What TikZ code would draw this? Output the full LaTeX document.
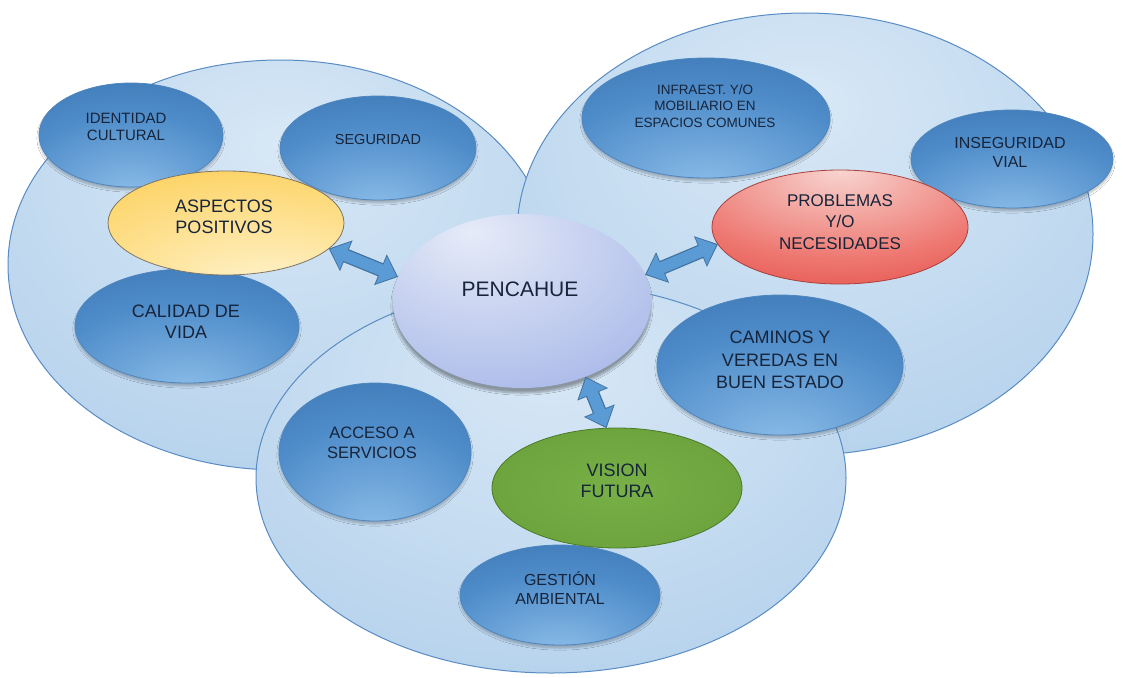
\documentclass[tikz,border=0pt]{standalone}
\usepackage{fontspec}
\setmainfont{Liberation Sans}
\usetikzlibrary{shapes.geometric,arrows.meta,shadows.blur}
\definecolor{bigin}{HTML}{D8E8F6}
\definecolor{bigmid}{HTML}{BCD6EE}
\definecolor{bigout}{HTML}{99C0E4}
\definecolor{bigedge}{HTML}{5A8CC4}
\definecolor{dkin}{HTML}{8DBEE9}
\definecolor{dkmid}{HTML}{4F8DCA}
\definecolor{dkout}{HTML}{2A64A0}
\definecolor{dkedge}{HTML}{4F86BF}
\definecolor{yin}{HTML}{FFF5D3}
\definecolor{ymid}{HTML}{FDD875}
\definecolor{yout}{HTML}{F9B713}
\definecolor{yedge}{HTML}{7E7564}
\definecolor{rin}{HTML}{F8D4D0}
\definecolor{rmid}{HTML}{EE7A73}
\definecolor{rout}{HTML}{DC2B25}
\definecolor{redge}{HTML}{A8403C}
\definecolor{gin}{HTML}{78B047}
\definecolor{gout}{HTML}{629835}
\definecolor{gedge}{HTML}{4A7A28}
\definecolor{pin}{HTML}{E6EBF8}
\definecolor{pmid}{HTML}{B3C1EB}
\definecolor{pout}{HTML}{7089D6}
\definecolor{arrfill}{HTML}{5B9BD5}
\definecolor{arredge}{HTML}{41719C}
\definecolor{txt}{HTML}{17243A}
\pgfdeclareradialshading{bigshade}{\pgfpoint{0bp}{15bp}}{color(0bp)=(bigin); color(30bp)=(bigmid); color(65bp)=(bigout); color(90bp)=(bigout)}
\pgfdeclareradialshading{darkshade}{\pgfpoint{0bp}{-30bp}}{color(0bp)=(dkin); color(30bp)=(dkmid); color(66bp)=(dkout); color(95bp)=(dkout)}
\pgfdeclareradialshading{yelshade}{\pgfpoint{10bp}{-35bp}}{color(0bp)=(yin); color(40bp)=(ymid); color(78bp)=(yout); color(100bp)=(yout)}
\pgfdeclareradialshading{redshade}{\pgfpoint{0bp}{25bp}}{color(0bp)=(rin); color(30bp)=(rmid); color(62bp)=(rout); color(95bp)=(rout)}
\pgfdeclareradialshading{grnshade}{\pgfpoint{0bp}{0bp}}{color(0bp)=(gin); color(50bp)=(gout); color(75bp)=(gout)}
\pgfdeclareradialshading{penshade}{\pgfpoint{-10bp}{20bp}}{color(0bp)=(pin); color(35bp)=(pmid); color(72bp)=(pout); color(95bp)=(pout)}
\tikzset{
  blob/.style={ellipse, inner sep=0pt, outer sep=0pt},
  bigc/.style={blob, draw=bigedge, line width=1pt, shading=bigshade},
  smallc/.style={blob, draw=dkedge, line width=0.8pt, shading=darkshade,
    blur shadow={shadow xshift=0pt, shadow yshift=-3pt, shadow opacity=25, shadow blur steps=6}},
  yelc/.style={blob, draw=yedge, line width=0.8pt, shading=yelshade},
  redc/.style={blob, draw=redge, line width=0.8pt, shading=redshade},
  grnc/.style={blob, draw=gedge, line width=0.8pt, shading=grnshade},
  penc/.style={blob, shading=penshade,
    blur shadow={shadow xshift=0pt, shadow yshift=-5pt, shadow opacity=35, shadow blur steps=8}},
  lbl/.style={align=center, text=txt, inner sep=0pt},
  arrout/.style={draw=arredge, line width=14pt,
    {Triangle[width=32pt,length=19pt]}-{Triangle[width=32pt,length=19pt]}},
  arrin/.style={draw=arrfill, line width=11.5pt, shorten <=1.6pt, shorten >=1.6pt,
    {Triangle[width=28.5pt,length=16.5pt]}-{Triangle[width=28.5pt,length=16.5pt]}},
}
\begin{document}
\begin{tikzpicture}[x=1pt,y=-1pt]
\fill[white] (0,0) rectangle (1123,677);
\useasboundingbox (0,0) rectangle (1123,677);
% big circles
\node[bigc, minimum width=544pt, minimum height=410pt] (L) at (280,265) {};
\node[bigc, minimum width=576pt, minimum height=442pt] (R) at (805,234) {};
\node[bigc, minimum width=590pt, minimum height=390pt] (B) at (551,478) {};
% small ellipses
\node[smallc, minimum width=184pt, minimum height=104pt] (ident) at (131,135) {};
\node[smallc, minimum width=196pt, minimum height=104pt] (segur) at (378,148) {};
\node[smallc, minimum width=224pt, minimum height=114pt] (cal) at (187,326) {};
\node[yelc, minimum width=236pt, minimum height=104pt] (asp) at (226,223) {};
\node[smallc, minimum width=248pt, minimum height=120pt] (infra) at (706,118) {};
\node[smallc, minimum width=202pt, minimum height=98pt] (inseg) at (1012,159) {};
\node[redc, minimum width=256pt, minimum height=114pt] (prob) at (840,227) {};
\node[smallc, minimum width=246pt, minimum height=140pt] (cam) at (780,365) {};
\node[smallc, minimum width=192pt, minimum height=138pt] (acc) at (375,452) {};
\node[smallc, minimum width=200pt, minimum height=100pt] (ges) at (560,595) {};
\node[grnc, minimum width=250pt, minimum height=120pt] (vis) at (617,488) {};
\node[penc, minimum width=258pt, minimum height=174pt] (pen) at (522,301) {};
% arrows
\draw[arrout] (asp.-14) -- (pen.169);
\draw[arrin] (asp.-14) -- (pen.169);
\draw[arrout] (pen.12) -- (prob.-172);
\draw[arrin] (pen.12) -- (prob.-172);
\draw[arrout] (pen.-50) -- (vis.100);
\draw[arrin] (pen.-50) -- (vis.100);
% labels
\node[lbl, font=\fontsize{15}{17.5}\selectfont] (tident) at (126,127) {IDENTIDAD\\CULTURAL};
\node[lbl, font=\fontsize{14.5}{17}\selectfont] (tsegur) at (378,140) {SEGURIDAD};
\node[lbl, font=\fontsize{18}{21}\selectfont] (tasp) at (224,217) {ASPECTOS\\POSITIVOS};
\node[lbl, font=\fontsize{18}{21}\selectfont] (tcal) at (186,322) {CALIDAD DE\\VIDA};
\node[lbl, font=\fontsize{21}{24}\selectfont] (tpen) at (520,289) {PENCAHUE};
\node[lbl, font=\fontsize{13.5}{16.5}\selectfont] (tinfra) at (705,106) {INFRAEST. Y/O\\MOBILIARIO EN\\ESPACIOS COMUNES};
\node[lbl, font=\fontsize{16}{19}\selectfont] (tinseg) at (1010,152) {INSEGURIDAD\\VIAL};
\node[lbl, font=\fontsize{17}{21.5}\selectfont] (tprob) at (840,222) {PROBLEMAS\\Y/O\\NECESIDADES};
\node[lbl, font=\fontsize{18}{22.5}\selectfont] (tcam) at (780,360) {CAMINOS Y\\VEREDAS EN\\BUEN ESTADO};
\node[lbl, font=\fontsize{16.5}{19.5}\selectfont] (tacc) at (372,443) {ACCESO A\\SERVICIOS};
\node[lbl, font=\fontsize{18}{21}\selectfont] (tvis) at (617,481) {VISION\\FUTURA};
\node[lbl, font=\fontsize{16}{19}\selectfont] (tges) at (560,588) {GESTIÓN\\AMBIENTAL};
\end{tikzpicture}
\end{document}
